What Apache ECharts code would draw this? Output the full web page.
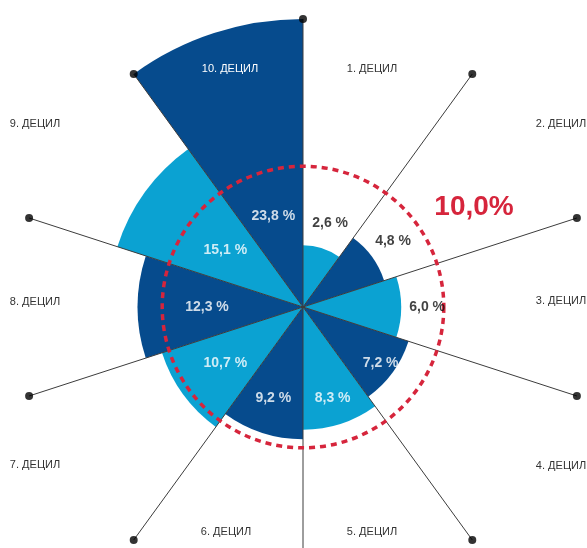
<!DOCTYPE html>
<html><head><meta charset="utf-8">
<script src="https://cdn.jsdelivr.net/npm/echarts@6/dist/echarts.min.js"></script>
<style>html,body{margin:0;padding:0;background:#fff}#c{width:587px;height:548px}</style>
</head><body><div id="c"></div>
<script>
// ---- data ----
const categories = ['1. ДЕЦИЛ','2. ДЕЦИЛ','3. ДЕЦИЛ','4. ДЕЦИЛ','5. ДЕЦИЛ','6. ДЕЦИЛ','7. ДЕЦИЛ','8. ДЕЦИЛ','9. ДЕЦИЛ','10. ДЕЦИЛ'];
const shares = [2.6, 4.8, 6.0, 7.2, 8.3, 9.2, 10.7, 12.3, 15.1, 23.8];
const averageShare = 10.0;
const averageLabel = '10,0%';

// ---- layout / style ----
const CX = 303, CY = 307, R = 288;
const RMIN = -3.2, RMAX = Math.max(...shares);
const n = categories.length, step = 360 / n;
const LIGHT = '#0ba2d2', DARK = '#064b8d', RED = '#d6253c';
const valToPx = v => R * (v - RMIN) / (RMAX - RMIN);
const pxToVal = p => RMIN + p / R * (RMAX - RMIN);
const fmt = v => v.toFixed(1).replace('.', ',') + ' %';

// decile name anchors (text centre), layout only
const nameAnchors = [[372,69],[561,124],[561,301],[561,466],[372,532],[226,532],[35,465],[35,302],[35,124],[230,69]];

const hidden = {axisLine:{show:false}, axisTick:{show:false}, axisLabel:{show:false}, splitLine:{show:false}};

const labelData = shares.map((v, i) => {
  const bpx = valToPx(v);
  const outside = bpx < 105;
  const rpx = outside ? bpx + 26 : 96;
  return {
    value: [pxToVal(rpx), i],
    label: {color: outside ? '#111' : '#fff'}
  };
});

const chart = echarts.init(document.getElementById('c'), null, {renderer: 'canvas'});
chart.setOption({
  animation: false,
  backgroundColor: '#fff',
  polar: [
    {center: [CX, CY], radius: R},
    {center: [CX, CY], radius: valToPx(averageShare)},
    {center: [CX, CY], radius: R}
  ],
  angleAxis: [
    Object.assign({polarIndex: 0, type: 'category', data: categories, startAngle: 90, clockwise: true}, hidden),
    Object.assign({}, hidden, {polarIndex: 1, type: 'value', min: 0, max: 360, startAngle: 90, z: 6,
      axisLine: {show: true, lineStyle: {color: RED, width: 3.5, type: [6, 5]}}}),
    Object.assign({}, hidden, {polarIndex: 2, type: 'value', min: 0, max: 360, interval: step, startAngle: 90, z: 5,
      splitLine: {show: true, lineStyle: {color: '#3c3c3c', width: 1}}})
  ],
  radiusAxis: [
    Object.assign({polarIndex: 0, type: 'value', min: RMIN, max: RMAX, startValue: RMIN}, hidden),
    Object.assign({polarIndex: 1, type: 'value', min: 0, max: 1}, hidden),
    Object.assign({polarIndex: 2, type: 'value', min: 0, max: 1}, hidden)
  ],
  series: [
    {
      type: 'bar', coordinateSystem: 'polar', polarIndex: 0,
      barCategoryGap: '0%',
      data: shares.map((v, i) => ({value: v, itemStyle: {color: i % 2 === 0 ? LIGHT : DARK}})),
      z: 2
    },
    {
      type: 'scatter', coordinateSystem: 'polar', polarIndex: 2,
      symbolSize: 8, itemStyle: {color: '#000'},
      data: categories.map((c, i) => [1, i * step]),
      z: 8, silent: true
    },
    {
      type: 'scatter', coordinateSystem: 'polar', polarIndex: 0,
      symbolSize: 1, itemStyle: {color: 'rgba(0,0,0,0)'},
      data: labelData,
      label: {show: true, position: 'inside', fontFamily: 'Liberation Sans, Arial, sans-serif',
        fontWeight: 'bold', fontSize: 14,
        formatter: p => fmt(shares[p.dataIndex])},
      z: 10, silent: true
    }
  ],
  graphic: categories.map((c, i) => ({
    type: 'text', x: nameAnchors[i][0], y: nameAnchors[i][1], z: 20,
    style: {text: c, fill: i === n - 1 ? '#fff' : '#333', font: '11px "Liberation Sans", Arial, sans-serif',
      textAlign: 'center', textVerticalAlign: 'middle'}
  })).concat([{
    type: 'text', x: 474, y: 207, z: 20,
    style: {text: averageLabel, fill: RED, font: 'bold 28px "Liberation Sans", Arial, sans-serif',
      textAlign: 'center', textVerticalAlign: 'middle'}
  }])
});
</script>
</body></html>
